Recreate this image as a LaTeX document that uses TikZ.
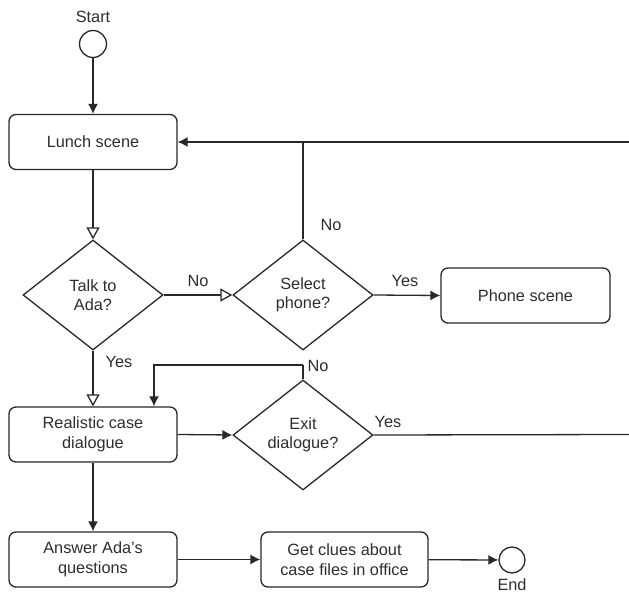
\documentclass[tikz,border=0pt]{standalone}
\usepackage{fontspec}
\setmainfont{Liberation Sans}
\usetikzlibrary{arrows.meta,shapes.geometric}
\definecolor{ln}{RGB}{40,40,40}
\definecolor{tx}{RGB}{45,45,45}
\tikzset{
  every node/.style={font=\fontsize{16.3}{19.5}\selectfont, text=tx},
  box/.style={draw=ln, line width=1.3pt, rounded corners=7pt, minimum width=168pt, minimum height=55pt, inner sep=0pt, align=center},
  dec/.style={draw=ln, line width=1.3pt, diamond, aspect=1.27, minimum width=140pt, minimum height=110pt, inner sep=0pt, align=center},
  term/.style={draw=ln, line width=1.3pt, circle, minimum size=27pt, inner sep=0pt},
  conn/.style={draw=ln, line width=1.3pt},
  fa/.style={conn, -{Latex[length=10pt,width=10pt]}},
  oa/.style={conn, -{Triangle[open,length=12pt,width=13pt]}},
  lbl/.style={inner sep=0pt}
}
\begin{document}
\begin{tikzpicture}[x=1pt,y=-1pt]
\useasboundingbox (0,0) rectangle (629,596);
\node[lbl] (startlbl) at (93,17) {Start};
\node[term] (start) at (93,44) {};
\node[box] (lunch) at (93,142) {Lunch scene};
\node[dec] (talk) at (93,295) {Talk to\\Ada?};
\node[dec] (sel) at (303,295) {Select\\phone?};
\node[box, minimum width=169pt] (phone) at (525.5,295.5) {Phone scene};
\node[box] (real) at (93,434.5) {Realistic case\\dialogue};
\node[dec] (exit) at (303,435) {Exit\\dialogue?};
\node[box] (ans) at (93,559.5) {Answer Ada's\\questions};
\node[box, minimum width=167pt] (clues) at (344.5,559.5) {Get clues about\\case files in office};
\node[term, minimum size=26pt] (end) at (512,560) {};
\node[lbl] (endlbl) at (512,585) {End};
\coordinate (r1) at (630,142);
\coordinate (r2) at (630,434.5);
\coordinate (loopa) at (303,365);
\coordinate (loopb) at (154,365);

\draw[fa] (start) -- (lunch);
\draw[oa] (lunch) -- (talk.north);
\draw[oa] (talk.east) -- node[lbl, above=8pt] (no1) {No} (sel.west);
\draw[fa] (sel.east) -- node[lbl, above=8pt, xshift=-2pt] (yes1) {Yes} (phone.west);
\draw[conn] (sel.north) -- (sel.north |- lunch.east);
\draw[fa] (r1) -- (lunch.east);
\node[lbl] (no2) at (331,225) {No};
\draw[oa] (talk.south) -- node[lbl, pos=0.2, right=12pt] (yes2) {Yes} (real.north);
\draw[fa] (real.east) -- (exit.west);
\draw[conn] (exit.north) -- (loopa);
\draw[fa] (loopa) -- (loopb) -- (loopb |- real.north);
\node[lbl] (no3) at (318,366) {No};
\draw[conn] (exit.east) -- (r2);
\node[lbl] (yes3) at (388,422) {Yes};
\draw[fa] (real) -- (ans);
\draw[fa] (ans) -- (clues);
\draw[fa] (clues) -- (end);
\end{tikzpicture}
\end{document}
